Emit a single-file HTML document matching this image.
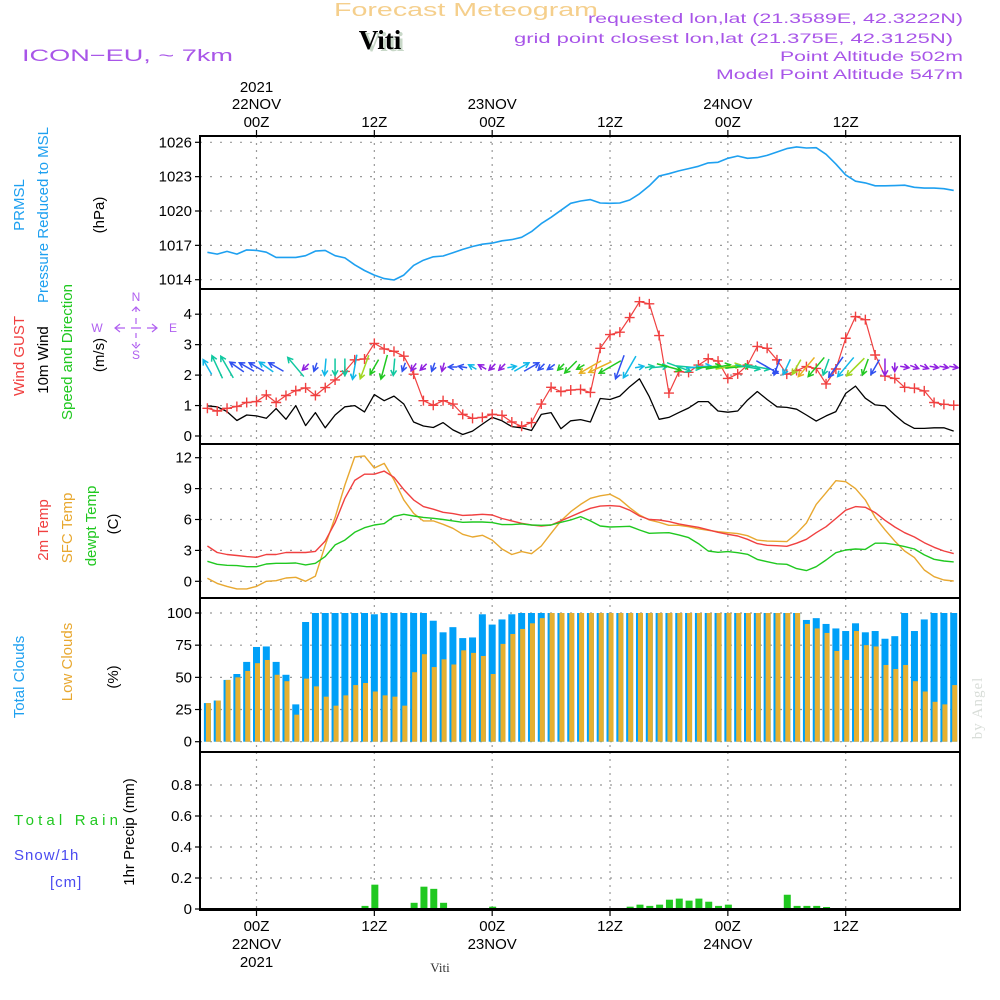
<!DOCTYPE html>
<html><head><meta charset="utf-8"><style>
html,body{margin:0;padding:0;background:#fff;}
svg{display:block;font-family:"Liberation Sans",sans-serif;}
</style></head><body>
<svg id="chart" width="1000" height="1000" viewBox="0 0 1000 1000" xmlns="http://www.w3.org/2000/svg">
<rect x="0" y="0" width="1000" height="1000" fill="#fff"/>
<text x="334" y="16" font-size="18" fill="#f5cf8c" textLength="264" lengthAdjust="spacingAndGlyphs">Forecast Meteogram</text>
<text x="383" y="51" text-anchor="middle" font-size="27" font-weight="bold" font-family="Liberation Serif,serif" fill="#c8d8c8">Viti</text>
<text x="380" y="49" text-anchor="middle" font-size="27" font-weight="bold" font-family="Liberation Serif,serif" fill="#000">Viti</text>
<g fill="#a855e8" font-size="14">
<text x="588" y="23" textLength="375" lengthAdjust="spacingAndGlyphs">requested lon,lat (21.3589E, 42.3222N)</text>
<text x="514" y="43" textLength="439" lengthAdjust="spacingAndGlyphs">grid point closest lon,lat (21.375E, 42.3125N)</text>
<text x="780" y="61" textLength="183" lengthAdjust="spacingAndGlyphs">Point Altitude 502m</text>
<text x="716" y="79" textLength="247" lengthAdjust="spacingAndGlyphs">Model Point Altitude 547m</text>
</g>
<text x="22" y="61" font-size="17" fill="#a855e8" textLength="211" lengthAdjust="spacingAndGlyphs">ICON−EU, ~ 7km</text>

<g id="grid"></g>
<g id="marks"></g>
<g id="frame" fill="none" stroke="#000" stroke-width="2">
<rect x="200" y="136" width="760" height="774"/>
<line x1="200" y1="289" x2="960" y2="289"/>
<line x1="200" y1="444" x2="960" y2="444"/>
<line x1="200" y1="598" x2="960" y2="598"/>
<line x1="200" y1="752" x2="960" y2="752"/>
</g>
<g id="axes" font-size="15" fill="#000"></g>

<g font-size="15">
<text transform="translate(24,205) rotate(-90)" text-anchor="middle" fill="#1ea0f0">PRMSL</text>
<text transform="translate(48,215) rotate(-90)" text-anchor="middle" fill="#1ea0f0">Pressure Reduced to MSL</text>
<text transform="translate(104,215) rotate(-90)" text-anchor="middle" fill="#000">(hPa)</text>
<text transform="translate(24,356) rotate(-90)" text-anchor="middle" fill="#f04040">Wind GUST</text>
<text transform="translate(48,360) rotate(-90)" text-anchor="middle" fill="#000">10m Wind</text>
<text transform="translate(72,352) rotate(-90)" text-anchor="middle" fill="#20c820">Speed and Direction</text>
<text transform="translate(104,355) rotate(-90)" text-anchor="middle" fill="#000">(m/s)</text>
<text transform="translate(48,530) rotate(-90)" text-anchor="middle" fill="#f04040">2m Temp</text>
<text transform="translate(72,528) rotate(-90)" text-anchor="middle" fill="#e8a830">SFC Temp</text>
<text transform="translate(96,526) rotate(-90)" text-anchor="middle" fill="#20c820">dewpt Temp</text>
<text transform="translate(118,524) rotate(-90)" text-anchor="middle" fill="#000">(C)</text>
<text transform="translate(24,677) rotate(-90)" text-anchor="middle" fill="#1ea0f0">Total Clouds</text>
<text transform="translate(72,662) rotate(-90)" text-anchor="middle" fill="#e8a830">Low Clouds</text>
<text transform="translate(118,677) rotate(-90)" text-anchor="middle" fill="#000">(%)</text>
<text transform="translate(134,832) rotate(-90)" text-anchor="middle" fill="#000">1hr Precip (mm)</text>
<text x="14" y="825" fill="#20c820" textLength="104" lengthAdjust="spacing">Total  Rain</text>
<text x="14" y="860" fill="#4a4af0" letter-spacing="1">Snow/1h</text>
<text x="50" y="887" fill="#4a4af0" letter-spacing="1">[cm]</text>
</g>
<g>
<g fill="#b060f0" font-size="12" text-anchor="middle">
<text x="136" y="301">N</text>
<text x="97" y="332">W</text>
<text x="173" y="332">E</text>
<text x="136" y="359">S</text>
</g>
<g stroke="#b060f0" stroke-width="1.2" fill="none">
<path d="M115 328h10M131 328h10M147 328h10M136 307v5M136 318v6M136 333v5M136 342v4"/>
<path d="M120 324l-5 4l5 4M152 324l5 4l-5 4M132 311l4 -4l4 4M132 344l4 4l4 -4"/>
</g>
</g>
<text transform="translate(982,708) rotate(-90)" text-anchor="middle" font-size="15" font-family="Liberation Serif,serif" fill="#d8ddd8" letter-spacing="1">by Angel</text>
<text x="440" y="972" text-anchor="middle" font-size="13" font-family="Liberation Serif,serif" fill="#333">Viti</text>

<script>
// ---- data (hours from 22NOV 00Z, -5..71) ----
const hours = [];
for (let h = -5; h <= 71; h++) hours.push(h);
const pressure = [1016.39,1016.24,1016.47,1016.24,1016.6,1016.56,1016.4,1015.95,1015.95,1015.95,1016.1,1016.5,1016.56,1016.1,1015.9,1015.3,1014.8,1014.4,1014.1,1013.97,1014.4,1015.25,1015.7,1016.0,1016.07,1016.36,1016.65,1016.9,1017.1,1017.2,1017.4,1017.5,1017.7,1018.2,1018.9,1019.45,1020.06,1020.67,1020.87,1021.0,1020.7,1020.67,1020.7,1020.96,1021.5,1022.2,1023.06,1023.26,1023.5,1023.7,1023.9,1024.2,1024.25,1024.6,1024.8,1024.6,1024.66,1024.86,1025.15,1025.45,1025.6,1025.5,1025.53,1024.95,1024.1,1023.15,1022.6,1022.45,1022.2,1022.2,1022.22,1022.25,1022.07,1022.0,1022.0,1021.95,1021.8];
const wind10m = [0.99,0.96,0.8,0.51,0.69,0.66,0.58,0.9,0.55,1.0,0.34,0.77,0.27,0.69,0.96,1.0,0.79,1.36,1.16,1.31,1.05,0.46,0.33,0.28,0.44,0.2,0.05,0.16,0.39,0.61,0.5,0.31,0.27,0.18,0.71,0.77,0.24,0.5,0.54,0.46,1.23,1.2,1.31,1.62,1.88,1.29,0.55,0.61,0.77,0.92,1.13,1.13,0.82,0.78,0.82,1.18,1.46,1.2,0.96,0.94,0.88,0.69,0.49,0.66,0.8,1.4,1.64,1.24,1.02,0.99,0.69,0.42,0.25,0.25,0.27,0.27,0.16];
const gust = [0.91,0.82,0.91,0.97,1.1,1.13,1.35,1.1,1.33,1.49,1.58,1.33,1.59,1.84,2.12,2.5,2.53,3.04,2.86,2.78,2.62,2.03,1.16,1.01,1.16,1.05,0.71,0.58,0.61,0.71,0.68,0.46,0.32,0.44,1.05,1.6,1.46,1.51,1.53,1.43,2.88,3.33,3.41,3.89,4.41,4.34,3.3,1.41,2.11,2.09,2.33,2.54,2.46,1.89,2.04,2.33,2.94,2.88,2.5,2.03,2.15,2.28,2.22,1.71,2.2,3.21,3.92,3.82,2.66,1.97,1.89,1.6,1.57,1.48,1.1,1.04,1.01];
const windDir = [330,335,330,305,300,300,305,300,0,320,225,200,185,180,180,190,200,210,195,185,200,215,225,200,195,270,280,300,300,225,225,80,60,60,225,235,225,225,240,240,245,240,200,210,80,80,85,105,110,95,85,85,80,80,85,100,100,120,200,205,210,220,220,200,215,220,225,200,210,180,180,100,110,110,100,100,100];
const windLen = [2,3,3,2,2,2,2,2,0,3,1,1,2,2,2,3,3,2,3,2,1,1,1,1,1,1,1,1,1,1,1,1,2,2,1,1,1,2,1,3,3,3,3,3,1,1,2,3,3,3,3,3,3,3,3,3,3,3,2,2,2,3,3,2,3,3,3,2,2,2,1,1,1,1,1,1,1];
const windCol = [1,2,2,0,0,0,1,0,0,2,4,0,1,2,2,1,5,3,3,2,0,4,4,0,4,0,0,1,4,4,4,1,1,0,0,0,3,3,3,6,6,3,0,1,1,2,2,3,2,2,1,3,3,5,3,2,2,0,0,1,5,6,3,2,0,1,5,3,0,4,4,4,4,4,4,4,4];
const temp2m = [3.43,2.8,2.6,2.5,2.4,2.33,2.6,2.6,2.8,2.8,2.8,2.9,3.9,5.7,8.06,9.8,10.4,10.4,10.7,10.1,8.9,7.9,7.25,7.0,6.7,6.57,6.4,6.44,6.5,6.44,6.1,5.86,5.63,5.47,5.37,5.47,5.86,6.28,6.7,7.09,7.3,7.35,7.28,6.9,6.34,6.0,5.95,5.8,5.57,5.4,5.24,5.0,4.76,4.56,4.4,4.08,3.66,3.5,3.46,3.4,3.7,4.08,4.72,5.3,6.1,6.9,7.25,7.18,6.67,5.92,5.27,4.72,4.3,3.75,3.3,2.94,2.69];
const tempSfc = [0.3,-0.2,-0.5,-0.74,-0.74,-0.5,0,0.06,0.32,0.39,0,0.5,3.5,6.2,9.35,12.07,12.17,11.0,11.45,9.84,7.9,6.6,5.86,5.86,5.53,5.15,4.56,4.3,4.47,4.0,3.14,2.6,2.88,2.68,3.43,4.66,5.86,6.76,7.47,8.06,8.3,8.45,7.96,7.15,6.44,5.95,5.73,5.44,5.44,5.3,5.1,4.95,4.82,4.72,4.63,4.43,4.0,3.9,3.88,3.85,4.66,5.66,7.47,8.6,9.77,9.67,9.0,7.9,6.2,5.0,3.9,2.94,2.3,1.1,0.45,0.13,0.03];
const dewpt = [1.94,1.65,1.55,1.52,1.42,1.42,1.68,1.75,1.75,1.78,1.59,1.75,2.4,3.53,4.0,4.76,5.2,5.47,5.6,6.3,6.5,6.34,6.2,6.12,6.0,5.86,5.73,5.76,5.76,5.7,5.5,5.5,5.57,5.47,5.44,5.47,5.73,5.95,6.28,5.86,5.37,5.27,5.3,5.34,4.98,4.66,4.7,4.72,4.5,4.24,3.66,2.94,2.82,2.88,2.78,2.62,2.13,1.9,1.7,1.65,1.23,1.04,1.42,2.07,2.78,3.04,3.14,3.1,3.7,3.7,3.56,3.37,3.14,2.56,2.14,1.97,1.88];
const totalClouds = [30,32,48,52.6,62,73.6,74,62,52,29,93,100,100,100,100,100,100,99,100,100,100,100,100,94,85,89,80.5,81,99,91,95,99,100,100,100,100,100,100,100,100,100,100,100,100,100,100,100,100,100,100,100,100,100,100,100,100,100,100,100,100,100,94.6,96,91.5,88,86,92,85,86,80,82,100,86,95,100,100,100];
const lowClouds = [30,32,48,50,55,61,63.5,52,47,21,49,43,35,28,36,44,45.6,39,36,35,28,54,68,58,64,60,71,69,66.6,52.6,76,83.7,87.6,92,96,100,100,100,100,100,100,100,100,100,100,100,100,100,100,100,100,100,100,100,100,100,100,100,100,100,100,91.5,88,84.5,70.5,63.5,86,75,74,59.6,56.5,59.6,47,39,31,29,44];
const precip = [0,0,0,0,0,0,0,0,0,0,0,0,0,0,0,0,0.02,0.157,0,0,0,0.04,0.144,0.13,0.04,0,0,0,0,0.015,0,0,0,0,0,0,0,0,0,0,0,0,0.004,0.015,0.028,0.02,0.028,0.06,0.067,0.054,0.067,0.047,0.02,0.028,0.006,0.002,0.002,0.002,0.006,0.092,0.02,0.02,0.02,0.013,0.006,0,0,0,0,0,0,0,0,0,0,0,0];
const pTicks = [1014,1017,1020,1023,1026];
const wTicks = [0,1,2,3,4];
const tTicks = [0,3,6,9,12];
const cTicks = [0,25,50,75,100];
const rTicks = [0,0.2,0.4,0.6,0.8];
const rTickLabels = ["0","0.2","0.4","0.6","0.8"];
const timeTicks = [0,12,24,36,48,60];
const topTimeLabels = ["00Z","12Z","00Z","12Z","00Z","12Z"];
const dayTicks = [0,24,48];
const dayLabels = ["22NOV","23NOV","24NOV"];

const X0 = 200, X1 = 960;
const xs = h => 256.5 + h * 9.82;
const yP = v => 142.3 + (1026 - v) * 11.45;
const yW = v => 436 - v * 30.45;
const yT = v => 581.3 - v * 10.3;
const yC = v => 741.7 - v * 1.287;
const yR = v => 909 - v * 155;

const NS = "http://www.w3.org/2000/svg";
const grid = document.getElementById('grid');
const marks = document.getElementById('marks');
const axes = document.getElementById('axes');
function mk(tag, attrs, parent) {
  const e = document.createElementNS(NS, tag);
  for (const k in attrs) e.setAttribute(k, attrs[k]);
  parent.appendChild(e);
  return e;
}
function txt(s, x, y, anchor, parent) {
  const t = mk('text', {x: x, y: y, 'text-anchor': anchor}, parent);
  t.textContent = s;
  return t;
}

timeTicks.forEach(h => {
  const l = mk('line', {x1: xs(h), x2: xs(h), y1: 136, y2: 910, stroke: '#999', 'stroke-width': 1.2, 'stroke-dasharray': '2 5'}, grid);
  
  
  mk('line', {x1: xs(h), x2: xs(h), y1: 130, y2: 136, stroke: '#000', 'stroke-width': 1.2}, axes);
  mk('line', {x1: xs(h), x2: xs(h), y1: 910, y2: 916, stroke: '#000', 'stroke-width': 1.2}, axes);
});
function yAxis(ticks, labels, f, name) {
  ticks.forEach((v, i) => {
    const y = f(v);
    const l = mk('line', {x1: X0, x2: X1, y1: y, y2: y, stroke: '#999', 'stroke-width': 1.2, 'stroke-dasharray': '2 8'}, grid);
    
    
    mk('line', {x1: X0 - 5, x2: X0, y1: y, y2: y, stroke: '#000', 'stroke-width': 1.2}, axes);
    const t = txt(labels[i], X0 - 8, y + 5, 'end', axes);
    
    
  });
}
yAxis(pTicks, pTicks.map(String), yP, 'pressure');
yAxis(wTicks, wTicks.map(String), yW, 'wind');
yAxis(tTicks, tTicks.map(String), yT, 'temp');
yAxis(cTicks, cTicks.map(String), yC, 'cloud');
yAxis(rTicks, rTickLabels, yR, 'precip');

timeTicks.forEach((h, i) => {
  const a = txt(topTimeLabels[i], xs(h), 127, 'middle', axes);
  
  
  const b = txt(topTimeLabels[i], xs(h), 931, 'middle', axes);
  
  
});
dayTicks.forEach((h, i) => {
  const a = txt(dayLabels[i], xs(h), 109, 'middle', axes);
  
  
  const b = txt(dayLabels[i], xs(h), 949, 'middle', axes);
  
  
});
const y1 = txt('2021', xs(0), 92, 'middle', axes);


const y2 = txt('2021', xs(0), 967, 'middle', axes);



hours.forEach((h, i) => {
  const x = xs(h);
  const b = mk('rect', {x: x - 3.5, y: yC(totalClouds[i]), width: 7, height: yC(0) - yC(totalClouds[i]), fill: '#00a0f8'}, marks);
  
  
  const o = mk('rect', {x: x - 1.5, y: yC(lowClouds[i]), width: 5, height: yC(0) - yC(lowClouds[i]), fill: '#e6b030'}, marks);
  
  
  if (precip[i] > 0) {
    const r = mk('rect', {x: x - 3, y: yR(precip[i]), width: 7, height: yR(0) - yR(precip[i]), fill: '#20c820'}, marks);
    
    
  }
});
mk('line', {x1: X0, x2: X1, y1: yR(0), y2: yR(0), stroke: '#000', 'stroke-width': 2}, marks);

function line(vals, f, color, name, w) {
  const d = hours.map((h, i) => (i ? 'L' : 'M') + xs(h).toFixed(1) + ' ' + f(vals[i]).toFixed(1)).join(' ');
  const p = mk('path', {d: d, fill: 'none', stroke: color, 'stroke-width': w || 1.4, 'stroke-linejoin': 'round'}, marks);
  
  
}
line(pressure, yP, '#1ea0f0', 'pressure-line', 1.6);
line(wind10m, yW, '#000', 'wind-10m-line', 1.3);
line(gust, yW, '#f04040', 'gust-line', 1.2);
hours.forEach((h, i) => {
  const x = xs(h), y = yW(gust[i]);
  const m = mk('path', {d: `M${x-5} ${y}H${x+5}M${x} ${y-5}V${y+5}`, stroke: '#f04040', 'stroke-width': 1.4}, marks);
  
  
});
const arrowColors = ['#3050f0','#10b8e8','#10c8a0','#20c820','#9020e0','#a0d820','#e8b020'];
const arrowLens = [0, 9, 17, 25];
hours.forEach((h, i) => {
  const L = arrowLens[windLen[i]];
  if (!L) return;
  const a = windDir[i] * Math.PI / 180;
  const dx = Math.sin(a), dy = -Math.cos(a);
  const cx = xs(h), cy = 367;
  const x1 = cx - dx * L / 2, yy1 = cy - dy * L / 2, x2 = cx + dx * L / 2, yy2 = cy + dy * L / 2;
  const hl = 6, ang = 0.5;
  const bx = -dx, by = -dy;
  const h1x = x2 + hl * (bx * Math.cos(ang) - by * Math.sin(ang)), h1y = yy2 + hl * (bx * Math.sin(ang) + by * Math.cos(ang));
  const h2x = x2 + hl * (bx * Math.cos(-ang) - by * Math.sin(-ang)), h2y = yy2 + hl * (bx * Math.sin(-ang) + by * Math.cos(-ang));
  const p = mk('path', {d: `M${x1} ${yy1}L${x2} ${yy2}M${h1x} ${h1y}L${x2} ${yy2}L${h2x} ${h2y}`, fill: 'none', stroke: arrowColors[windCol[i]], 'stroke-width': 1.5}, marks);
  
  
});
line(tempSfc, yT, '#e8a830', 'sfc-temp-line', 1.4);
line(temp2m, yT, '#f04040', 'temp-2m-line', 1.4);
line(dewpt, yT, '#20c820', 'dewpoint-line', 1.4);
</script>
</svg>
</body></html>
